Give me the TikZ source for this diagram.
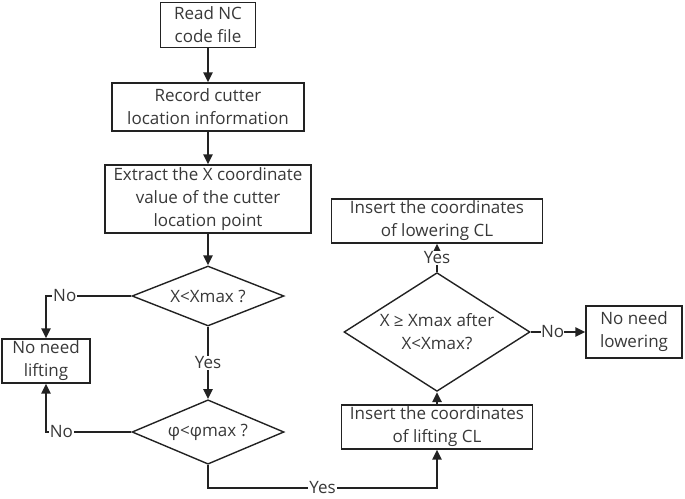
\documentclass[tikz,border=0pt]{standalone}
\usepackage{fontspec}
\setmainfont{Open Sans}
\usetikzlibrary{positioning, shapes.geometric, arrows.meta, calc}
\definecolor{flowline}{HTML}{222222}
\definecolor{flowtext}{HTML}{383838}

\begin{document}
\begin{tikzpicture}[x=1pt,y=-1pt,font=\fontsize{17}{23}\selectfont,
  bx/.style={draw=flowline, line width=1.4pt, align=center, inner sep=2pt, text=flowtext},
  dm/.style={draw=flowline, line width=1.4pt, diamond, align=center, inner xsep=-8pt, inner ysep=-8pt, text=flowtext},
  ar/.style={-{Triangle[length=10pt,width=9pt]}, line width=2.6pt, draw=flowline},
  lb/.style={fill=white, inner sep=1pt, text=flowtext}]
\useasboundingbox (0,0) rectangle (685,498);
% main column
\node[bx,minimum width=95pt,minimum height=45pt](read) at (208,25){Read NC\\code file};
\node[bx,minimum width=192pt,minimum height=48pt](record) at (208,107){Record cutter\\location information};
\node[bx,minimum width=206pt,minimum height=68pt](extract) at (208,199){Extract the X coordinate\\value of the cutter\\location point};
\node[dm,minimum width=152pt,minimum height=60pt](xmax) at (208,296){X<Xmax ?};
\node[dm,minimum width=152pt,minimum height=61pt](phimax) at (208,432){φ<φmax ?};
\node[bx,minimum width=88pt,minimum height=44pt](nolift) at (46,361){No need\\lifting};
% right column
\node[bx,minimum width=191pt,minimum height=44pt](inslift) at (437,427){Insert the coordinates\\of lifting CL};
\node[dm,minimum width=186pt,minimum height=79pt](after) at (437,332){X ≥ Xmax after\\X<Xmax?};
\node[bx,minimum width=211pt,minimum height=43pt](inslower) at (437,221){Insert the coordinates\\of lowering CL};
\node[bx,minimum width=96pt,minimum height=52pt](nolower) at (634,332){No need\\lowering};
\coordinate (turn) at (208,488);

\foreach \a/\b in {read/record,record/extract,extract/xmax,inslift/after}{
  \draw[ar](\a)--(\b);}
\draw[ar](xmax.south)--node[lb]{Yes}(phimax.north);
\draw[ar](xmax.west)-|node[lb,pos=0.39]{No}(nolift.north);
\draw[ar](phimax.west)-|node[lb,pos=0.41]{No}(nolift.south);
\draw[ar](phimax.south)--(turn)-|node[lb,pos=0.25]{Yes}(inslift.south);
\draw[ar](after.north)--node[lb]{Yes}(inslower.south);
\draw[ar](after.east)--node[lb,pos=0.4,inner sep=0pt]{No}(nolower.west);

\end{tikzpicture}
\end{document}
